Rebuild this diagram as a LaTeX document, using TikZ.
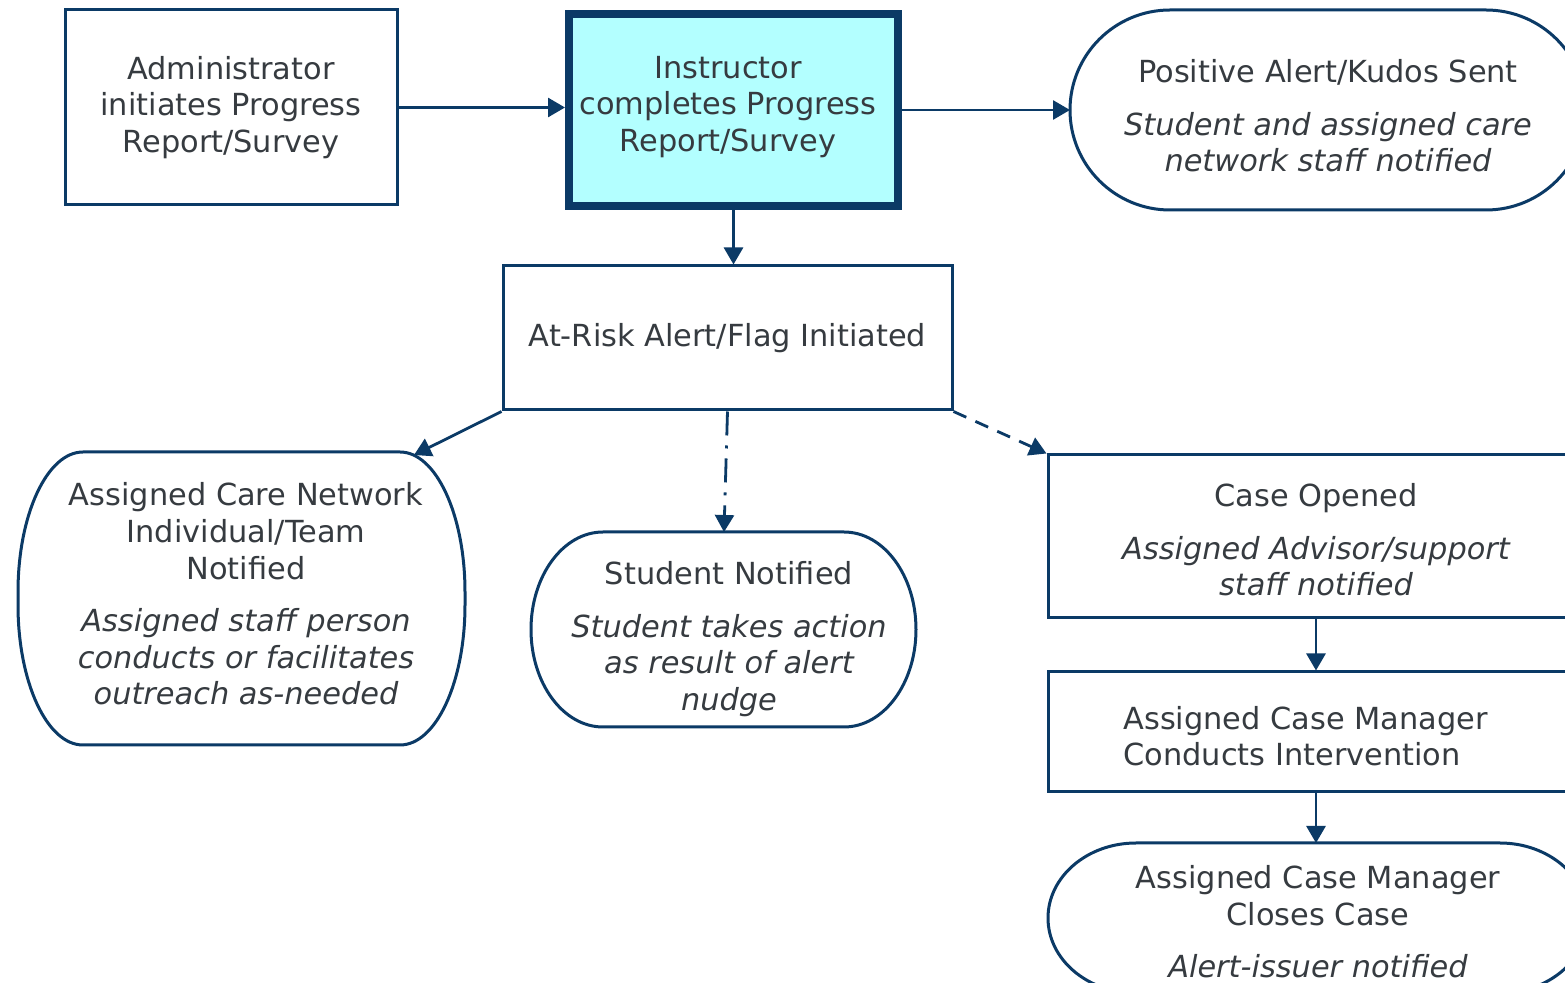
\documentclass[tikz,border=0pt]{standalone}
\usepackage{fontspec}
\setmainfont{DejaVu Sans}
\usetikzlibrary{arrows.meta}
\definecolor{navy}{HTML}{0B3A66}
\definecolor{txt}{HTML}{363B40}
\definecolor{cyanfill}{HTML}{B3FFFF}
\tikzset{
  base/.style={text=txt, font=\fontsize{15.2}{18.3}\selectfont, align=center},
  boxnode/.style={base, draw=navy, line width=1.5pt, inner sep=0pt},
  outline/.style={draw=navy, line width=1.5pt},
  arr/.style={draw=navy, line width=1.4pt, -{Triangle[length=8.5pt,width=9.5pt]}},
}
\begin{document}
\begin{tikzpicture}[x=0.5pt,y=-0.5pt]
\useasboundingbox (0,0) rectangle (1565,983);
\clip (0,0) rectangle (1565,983);
\fill[white] (0,0) rectangle (1565,983);

% rectangular nodes
\node[boxnode, minimum width=166pt, minimum height=97.5pt] (admin) at (231,107.5)
  {Administrator\\initiates Progress\\Report/Survey};
\node[boxnode, fill=cyanfill, line width=4pt, minimum width=164.5pt, minimum height=96pt] (instr) at (733.5,110) {};
\node[base] (instrtext) at (728,107)
  {Instructor\\completes Progress\\Report/Survey};
\node[boxnode, minimum width=224.5pt, minimum height=72pt] (atrisk) at (727.5,338)
  {At-Risk Alert/Flag Initiated};
\node[boxnode, minimum width=268pt, minimum height=81.5pt] (co) at (1316,536.5) {};
\node[base] (cotext) at (1316,540)
  {Case Opened\\[8pt]\itshape Assigned Advisor/support\\\itshape staff notified};
\node[boxnode, minimum width=268pt, minimum height=60pt] (cmi) at (1316,732) {};
\node[base, anchor=west, align=left, inner sep=0pt] (cmitext) at (1123,736)
  {Assigned Case Manager\\Conducts Intervention};

% rounded (terminal) shapes
\draw[outline] (1170,10) -- (1486,10)
  arc[start angle=90,end angle=0,x radius=50pt,y radius=50pt]
  arc[start angle=0,end angle=-90,x radius=50pt,y radius=50pt]
  -- (1170,210)
  arc[start angle=270,end angle=180,x radius=50pt,y radius=50pt]
  arc[start angle=180,end angle=90,x radius=50pt,y radius=50pt] -- cycle;
\node[base] (pos) at (1328,116)
  {Positive Alert/Kudos Sent\\[8pt]\itshape Student and assigned care\\\itshape network staff notified};
\coordinate (posw) at (1070,110);

\draw[outline] (83,452) -- (400,452)
  arc[start angle=90,end angle=0,x radius=32.5pt,y radius=70pt]
  -- (465,605)
  arc[start angle=0,end angle=-90,x radius=32.5pt,y radius=70pt]
  -- (83,745)
  arc[start angle=270,end angle=180,x radius=32.5pt,y radius=70pt]
  -- (18,592)
  arc[start angle=180,end angle=90,x radius=32.5pt,y radius=70pt] -- cycle;
\node[base] (care) at (246,594)
  {Assigned Care Network\\Individual/Team\\Notified\\[8pt]\itshape Assigned staff person\\\itshape conducts or facilitates\\\itshape outreach as-needed};
\coordinate (carein) at (414,455);

\draw[outline] (603,532) -- (844,532)
  arc[start angle=90,end angle=0,x radius=36pt,y radius=48.75pt]
  arc[start angle=0,end angle=-90,x radius=36pt,y radius=48.75pt]
  -- (603,727)
  arc[start angle=270,end angle=180,x radius=36pt,y radius=48.75pt]
  arc[start angle=180,end angle=90,x radius=36pt,y radius=48.75pt] -- cycle;
\node[base] (stud) at (729,639)
  {Student Notified\\[8pt]\itshape Student takes action\\\itshape as result of alert\\\itshape nudge};
\coordinate (studin) at (724,532);

\draw[outline] (1136,843) -- (1500,843)
  arc[start angle=90,end angle=0,x radius=44pt,y radius=37.5pt]
  arc[start angle=0,end angle=-90,x radius=44pt,y radius=37.5pt]
  -- (1136,993)
  arc[start angle=270,end angle=180,x radius=44pt,y radius=37.5pt]
  arc[start angle=180,end angle=90,x radius=44pt,y radius=37.5pt] -- cycle;
\node[base] (close) at (1318,922)
  {Assigned Case Manager\\Closes Case\\[8pt]\itshape Alert-issuer notified};
\coordinate (closein) at (1316,843);

% connectors
\draw[arr] (admin.east) -- (admin.east -| instr.west);
\draw[arr] (instr.east) -- (posw);
\draw[arr] (instr.south) -- (instr.south |- atrisk.north);
\draw[arr] (atrisk.south west) -- (carein);
\draw[arr, dash pattern=on 12pt off 5pt on 1.5pt off 5pt] (atrisk.south) -- (studin);
\draw[arr, dash pattern=on 7pt off 5pt] (atrisk.south east) -- (co.north west);
\draw[arr] (co.south) -- (cmi.north);
\draw[arr] (cmi.south) -- (closein);
\end{tikzpicture}
\end{document}
